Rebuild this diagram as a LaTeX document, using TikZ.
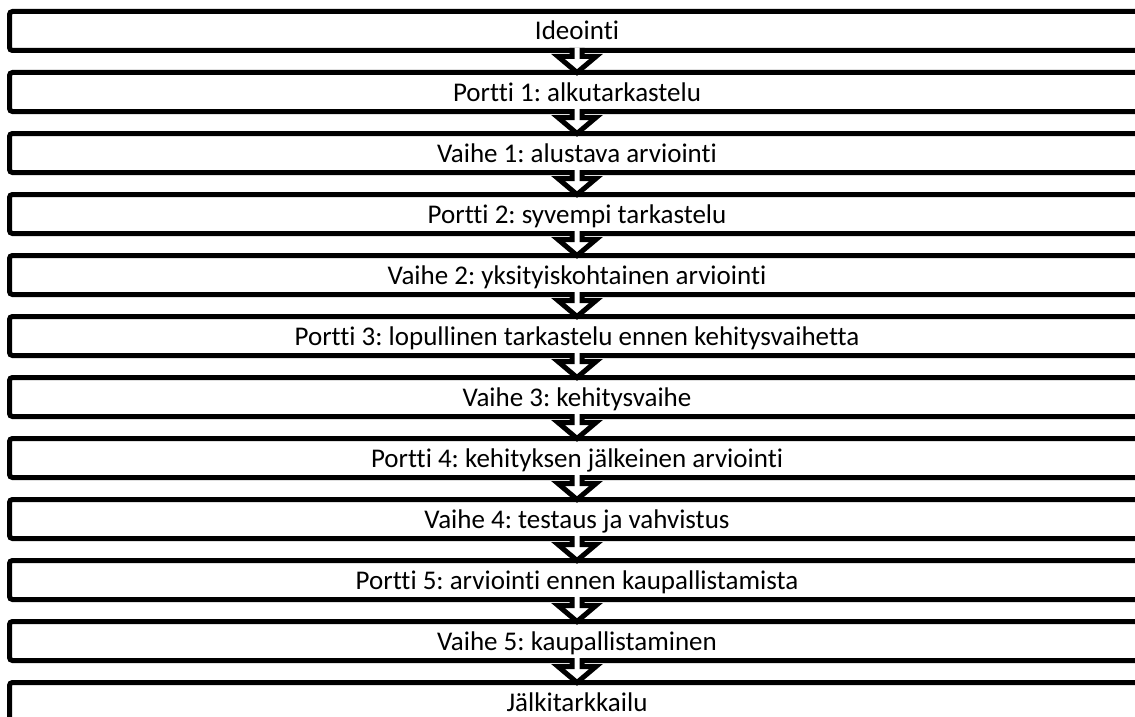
\documentclass[tikz,border=0pt]{standalone}
\usepackage{fontspec}
\setmainfont{Carlito}[Ligatures=NoCommon]

\tikzset{
  vaihe/.style={draw, line width=5pt, rounded corners=3pt, fill=white,
    minimum width=1135pt, minimum height=39pt, inner sep=0pt, outer sep=0pt,
    text height=24pt, text depth=6pt, font=\fontsize{27}{32}\selectfont\frenchspacing},
  nuoli/.style={draw, fill=white, line width=5pt}
}

\begin{document}
\begin{tikzpicture}[x=1pt, y=-1pt]
\useasboundingbox (0,0) rectangle (1135,717);
\clip (0,0) rectangle (1135,717);

% Vaiheet ja portit
\node[vaihe] (ideointi) at (577,31) {Ideointi};
\node[vaihe] (portti1) at (577,92) {Portti 1: alkutarkastelu};
\node[vaihe] (vaihe1) at (577,153) {Vaihe 1: alustava arviointi};
\node[vaihe] (portti2) at (577,214) {Portti 2: syvempi tarkastelu};
\node[vaihe] (vaihe2) at (577,275) {Vaihe 2: yksityiskohtainen arviointi};
\node[vaihe] (portti3) at (577,336) {Portti 3: lopullinen tarkastelu ennen kehitysvaihetta};
\node[vaihe] (vaihe3) at (577,397) {Vaihe 3: kehitysvaihe};
\node[vaihe] (portti4) at (577,458) {Portti 4: kehityksen jälkeinen arviointi};
\node[vaihe] (vaihe4) at (577,519) {Vaihe 4: testaus ja vahvistus};
\node[vaihe] (portti5) at (577,580) {Portti 5: arviointi ennen kaupallistamista};
\node[vaihe] (vaihe5) at (577,641) {Vaihe 5: kaupallistaminen};
\node[vaihe] (jalki) at (577,702) {Jälkitarkkailu};

% Nuolet
\draw[nuoli] (ideointi.south) ++(-5,-2.5) -- ++(0,8.5) -- ++(-14,0) -- (portti1.north) -- ++(19,-16) -- ++(-14,0) -- ++(0,-8.5);
\draw[nuoli] (portti1.south) ++(-5,-2.5) -- ++(0,8.5) -- ++(-14,0) -- (vaihe1.north) -- ++(19,-16) -- ++(-14,0) -- ++(0,-8.5);
\draw[nuoli] (vaihe1.south) ++(-5,-2.5) -- ++(0,8.5) -- ++(-14,0) -- (portti2.north) -- ++(19,-16) -- ++(-14,0) -- ++(0,-8.5);
\draw[nuoli] (portti2.south) ++(-5,-2.5) -- ++(0,8.5) -- ++(-14,0) -- (vaihe2.north) -- ++(19,-16) -- ++(-14,0) -- ++(0,-8.5);
\draw[nuoli] (vaihe2.south) ++(-5,-2.5) -- ++(0,8.5) -- ++(-14,0) -- (portti3.north) -- ++(19,-16) -- ++(-14,0) -- ++(0,-8.5);
\draw[nuoli] (portti3.south) ++(-5,-2.5) -- ++(0,8.5) -- ++(-14,0) -- (vaihe3.north) -- ++(19,-16) -- ++(-14,0) -- ++(0,-8.5);
\draw[nuoli] (vaihe3.south) ++(-5,-2.5) -- ++(0,8.5) -- ++(-14,0) -- (portti4.north) -- ++(19,-16) -- ++(-14,0) -- ++(0,-8.5);
\draw[nuoli] (portti4.south) ++(-5,-2.5) -- ++(0,8.5) -- ++(-14,0) -- (vaihe4.north) -- ++(19,-16) -- ++(-14,0) -- ++(0,-8.5);
\draw[nuoli] (vaihe4.south) ++(-5,-2.5) -- ++(0,8.5) -- ++(-14,0) -- (portti5.north) -- ++(19,-16) -- ++(-14,0) -- ++(0,-8.5);
\draw[nuoli] (portti5.south) ++(-5,-2.5) -- ++(0,8.5) -- ++(-14,0) -- (vaihe5.north) -- ++(19,-16) -- ++(-14,0) -- ++(0,-8.5);
\draw[nuoli] (vaihe5.south) ++(-5,-2.5) -- ++(0,8.5) -- ++(-14,0) -- (jalki.north) -- ++(19,-16) -- ++(-14,0) -- ++(0,-8.5);

\end{tikzpicture}
\end{document}
